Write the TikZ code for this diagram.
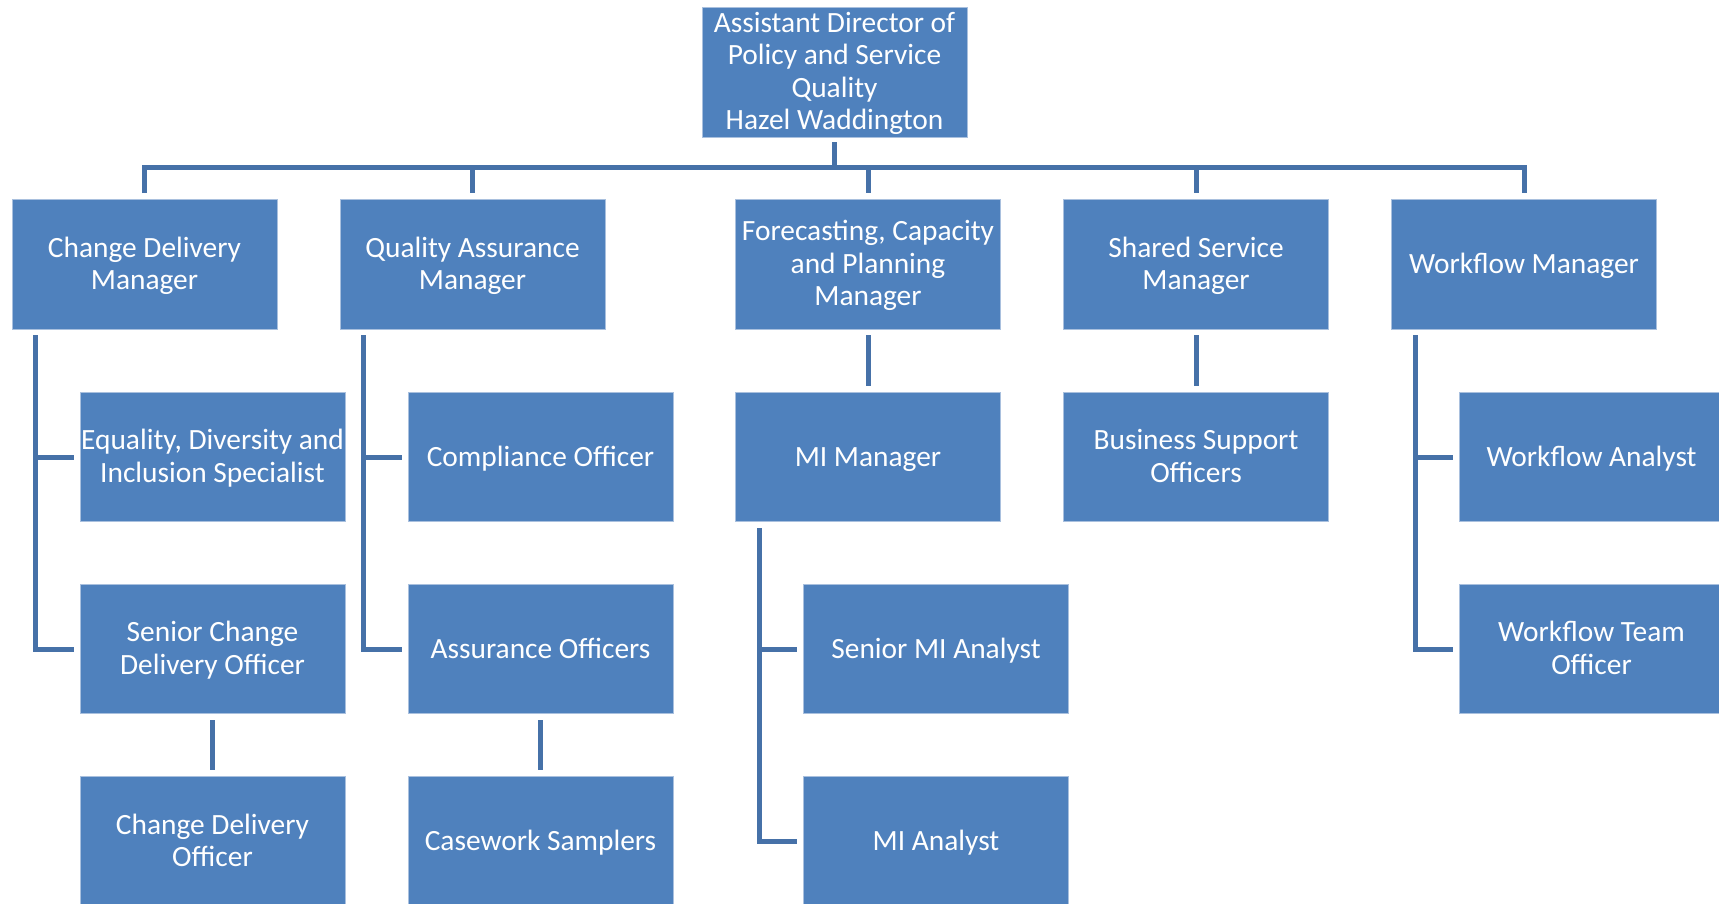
\documentclass[tikz,border=0pt]{standalone}
\usepackage{fontspec}
\setmainfont{Carlito}
\definecolor{boxfill}{HTML}{4F81BD}
\definecolor{boxedge}{HTML}{A9C0DE}
\definecolor{linkc}{HTML}{4671A8}
\newcommand{\boxlines}[1]{\raisebox{-2.5pt}[\height][\depth]{\begin{tabular}{@{}c@{}}#1\end{tabular}}}
\begin{document}
\begin{tikzpicture}[x=1pt,y=-1pt,
  box/.style={draw=boxedge, line width=0.8pt, fill=boxfill, text=white,
    minimum width=265pt, minimum height=129.5pt, inner sep=0pt,
    font=\fontsize{29.4}{32.5}\selectfont},
  link/.style={draw=linkc, line width=5pt}]
\useasboundingbox (0,0) rectangle (1719,904);
\node[box] (top) at (834.5,72) {\boxlines{Assistant Director of\\Policy and Service\\Quality\\Hazel Waddington}};
\node[box] (cdm) at (144.5,264.3) {\boxlines{Change Delivery\\Manager}};
\node[box] (qam) at (472.5,264.3) {\boxlines{Quality Assurance\\Manager}};
\node[box] (fcp) at (868,264.3) {\boxlines{Forecasting, Capacity\\and Planning\\Manager}};
\node[box] (ssm) at (1196,264.3) {\boxlines{Shared Service\\Manager}};
\node[box] (wfm) at (1524,264.3) {\boxlines{Workflow Manager}};
\node[box] (edi) at (212.5,457) {\boxlines{Equality, Diversity and\\Inclusion Specialist}};
\node[box] (co) at (540.5,457) {\boxlines{Compliance Officer}};
\node[box] (mim) at (868,457) {\boxlines{MI Manager}};
\node[box] (bso) at (1196,457) {\boxlines{Business Support\\Officers}};
\node[box] (wfa) at (1591.5,457) {\boxlines{Workflow Analyst}};
\node[box] (scdo) at (212.5,649) {\boxlines{Senior Change\\Delivery Officer}};
\node[box] (ao) at (540.5,649) {\boxlines{Assurance Officers}};
\node[box] (smia) at (936,649) {\boxlines{Senior MI Analyst}};
\node[box] (wfto) at (1591.5,649) {\boxlines{Workflow Team\\Officer}};
\node[box] (cdo) at (212.5,841.5) {\boxlines{Change Delivery\\Officer}};
\node[box] (cs) at (540.5,841.5) {\boxlines{Casework Samplers}};
\node[box] (mia) at (936,841.5) {\boxlines{MI Analyst}};
% top level
\coordinate (bar) at (0,167.7);
\draw[link] ([yshift=-5pt]top.south) -- (top.south |- bar);
\draw[link] ([yshift=6pt]cdm.north) -- (cdm.north |- bar) -- (wfm.north |- bar) -- ([yshift=6pt]wfm.north);
\foreach \n in {qam,fcp,ssm} \draw[link] (\n.north |- bar) -- ([yshift=6pt]\n.north);
% side trees
\coordinate (cdmv) at ([xshift=24pt,yshift=-6pt]cdm.south west);
\draw[link] (cdmv) -- (cdmv |- scdo.west) -- ([xshift=-6pt]scdo.west);
\draw[link] (cdmv |- edi.west) -- ([xshift=-6pt]edi.west);
\coordinate (qamv) at ([xshift=24pt,yshift=-6pt]qam.south west);
\draw[link] (qamv) -- (qamv |- ao.west) -- ([xshift=-6pt]ao.west);
\draw[link] (qamv |- co.west) -- ([xshift=-6pt]co.west);
\coordinate (mimv) at ([xshift=24pt,yshift=-6pt]mim.south west);
\draw[link] (mimv) -- (mimv |- mia.west) -- ([xshift=-6pt]mia.west);
\draw[link] (mimv |- smia.west) -- ([xshift=-6pt]smia.west);
\coordinate (wfmv) at ([xshift=24pt,yshift=-6pt]wfm.south west);
\draw[link] (wfmv) -- (wfmv |- wfto.west) -- ([xshift=-6pt]wfto.west);
\draw[link] (wfmv |- wfa.west) -- ([xshift=-6pt]wfa.west);
% straight drops
\draw[link] ([yshift=-6pt]fcp.south) -- ([yshift=6pt]mim.north);
\draw[link] ([yshift=-6pt]ssm.south) -- ([yshift=6pt]bso.north);
\draw[link] ([yshift=-6pt]scdo.south) -- ([yshift=6pt]cdo.north);
\draw[link] ([yshift=-6pt]ao.south) -- ([yshift=6pt]cs.north);
\end{tikzpicture}
\end{document}
